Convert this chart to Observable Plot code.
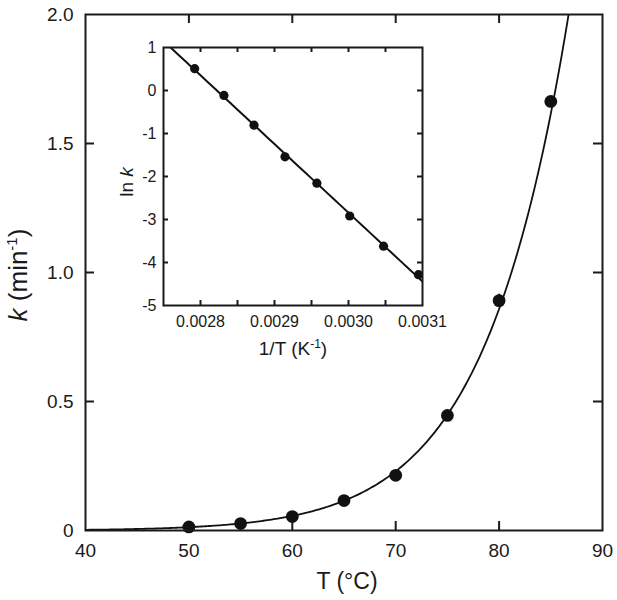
<!DOCTYPE html>
<html><head><meta charset="utf-8">
<script src="https://cdn.jsdelivr.net/npm/d3@7"></script>
<script src="https://cdn.jsdelivr.net/npm/@observablehq/plot@0.6"></script>
<style>
body{margin:0;background:#fff;}
#wrap{position:relative;width:617px;height:600px;}
#wrap svg.inset{position:absolute;left:100px;top:30px;}
#wrap svg.main{position:absolute;left:0;top:0;}
</style></head><body><div id="wrap"></div>
<script>
// ---- data ----
const tempsC = [50, 55, 60, 65, 70, 75, 80, 85];
const rateK = [0.0138, 0.0268, 0.054, 0.116, 0.214, 0.446, 0.891, 1.663];
const rateErr = [0.002, 0.002, 0.003, 0.004, 0.006, 0.01, 0.025, 0.012];
const mainXTicks = [40, 50, 60, 70, 80, 90];
const mainYTicks = [0, 0.5, 1, 1.5, 2];
const insetXTicks = [0.0028, 0.0029, 0.0030, 0.0031];
const insetXMinor = [0.0028, 0.00285, 0.0029, 0.00295, 0.0030, 0.00305];
const insetYTicks = [1, 0, -1, -2, -3, -4, -5];

const FONT = '"Liberation Sans", Arial, Helvetica, sans-serif';
const INK = "#1a1a1a";

const pts = tempsC.map((t, i) => ({
  T: t, k: rateK[i], err: rateErr[i],
  invT: 1 / (t + 273.15), lnk: Math.log(rateK[i])
}));

// Arrhenius least-squares fit of ln k vs 1/T (computed from the data)
const mx = d3.mean(pts, d => d.invT), my = d3.mean(pts, d => d.lnk);
const slope = d3.sum(pts, d => (d.invT - mx) * (d.lnk - my)) / d3.sum(pts, d => (d.invT - mx) ** 2);
const icpt = my - slope * mx;
const fitCurve = d3.range(40, 90.001, 0.2).map(T => ({T, k: Math.exp(icpt + slope / (T + 273.15))}));
const insetDomX = [0.00275, 0.0031];
const fitLine = d3.range(insetDomX[0], insetDomX[1] + 1e-9, 0.00001).map(x => ({x, y: icpt + slope * x}));

// ---- main chart ----
const W = 617, H = 600, mL = 85, mR = 15, mT = 14, mB = 70;
const iW = W - mL - mR, iH = H - mT - mB, tk = 9;

const main = Plot.plot({
  width: W, height: H, marginLeft: mL, marginRight: mR, marginTop: mT, marginBottom: mB,
  style: {fontFamily: FONT, fontSize: "19px", color: INK, background: "transparent", overflow: "visible"},
  x: {domain: [40, 90]},
  y: {domain: [0, 2]},
  marks: [
    Plot.axisX(mainXTicks, {tickSize: 0, tickPadding: 13, tickFormat: d => String(d), label: null, fontSize: 19}),
    Plot.axisY(mainYTicks, {tickSize: 0, tickPadding: 12, tickFormat: d => d === 0 ? "0" : d.toFixed(1), label: null, fontSize: 19}),
    Plot.ruleX(mainXTicks.slice(1, -1), {x: d => d, insetTop: iH - tk, stroke: INK, strokeWidth: 2}),
    Plot.ruleX(mainXTicks.slice(1, -1), {x: d => d, insetBottom: iH - tk, stroke: INK, strokeWidth: 2}),
    Plot.ruleY(mainYTicks.slice(1, -1), {y: d => d, insetRight: iW - tk, stroke: INK, strokeWidth: 2}),
    Plot.ruleY(mainYTicks.slice(1, -1), {y: d => d, insetLeft: iW - tk, stroke: INK, strokeWidth: 2}),
    Plot.line(fitCurve, {x: "T", y: "k", stroke: "#111", strokeWidth: 1.8, clip: true}),
    Plot.ruleX(pts, {x: "T", y1: d => d.k - d.err, y2: d => d.k + d.err, stroke: "#111", strokeWidth: 2}),
    Plot.dot(pts, {x: "T", y: "k", r: 6.4, fill: "#111", stroke: "none"}),
    Plot.frame({stroke: INK, strokeWidth: 2})
  ]
});
main.classList.add("main");
const ms = d3.select(main);
ms.append("text").attr("x", 347).attr("y", 589).attr("text-anchor", "middle")
  .attr("font-size", 23).attr("fill", INK).text("T (°C)");
const yl = ms.append("text").attr("transform", "translate(27,275) rotate(-90)")
  .attr("text-anchor", "middle").attr("font-size", 26).attr("fill", INK);
yl.append("tspan").attr("font-style", "italic").text("k");
yl.append("tspan").text(" (min");
yl.append("tspan").attr("font-size", 15).attr("dy", -10).text("-1");
yl.append("tspan").attr("dy", 10).text(")");

// ---- inset chart ----
const IW = 352, IH = 330, imL = 63, imR = 30, imT = 17, imB = 55;
const iiW = IW - imL - imR, iiH = IH - imT - imB, itk = 5;
const inset = Plot.plot({
  width: IW, height: IH, marginLeft: imL, marginRight: imR, marginTop: imT, marginBottom: imB,
  style: {fontFamily: FONT, fontSize: "16px", color: INK, background: "transparent", overflow: "visible"},
  x: {domain: insetDomX},
  y: {domain: [-5, 1]},
  marks: [
    Plot.axisX(insetXTicks, {tickSize: 0, tickPadding: 10, tickFormat: d => d.toFixed(4), label: null, fontSize: 16}),
    Plot.axisY(insetYTicks, {tickSize: 0, tickPadding: 7, tickFormat: d => String(d), label: null, fontSize: 16}),
    Plot.ruleX(insetXMinor, {x: d => d, insetTop: iiH - itk, stroke: INK, strokeWidth: 2}),
    Plot.ruleX(insetXMinor, {x: d => d, insetBottom: iiH - itk, stroke: INK, strokeWidth: 2}),
    Plot.ruleY(insetYTicks.slice(1, -1), {y: d => d, insetRight: iiW - itk, stroke: INK, strokeWidth: 2}),
    Plot.ruleY(insetYTicks.slice(1, -1), {y: d => d, insetLeft: iiW - itk, stroke: INK, strokeWidth: 2}),
    Plot.line(fitLine, {x: "x", y: "y", stroke: "#111", strokeWidth: 2, clip: true}),
    Plot.dot(pts, {x: "invT", y: "lnk", r: 4.6, fill: "#111", stroke: "none"}),
    Plot.frame({stroke: INK, strokeWidth: 2})
  ]
});
inset.classList.add("inset");
const is = d3.select(inset);
const xl = is.append("text").attr("x", 193).attr("y", 325).attr("text-anchor", "middle")
  .attr("font-size", 19).attr("fill", INK);
xl.append("tspan").text("1/T (K");
xl.append("tspan").attr("font-size", 12).attr("dy", -7).text("-1");
xl.append("tspan").attr("dy", 7).text(")");
const il = is.append("text").attr("transform", "translate(33,152) rotate(-90)")
  .attr("text-anchor", "middle").attr("font-size", 19).attr("fill", INK);
il.append("tspan").text("ln ");
il.append("tspan").attr("font-style", "italic").text("k");

const wrap = document.getElementById("wrap");
wrap.appendChild(main);
wrap.appendChild(inset);
</script></body></html>
